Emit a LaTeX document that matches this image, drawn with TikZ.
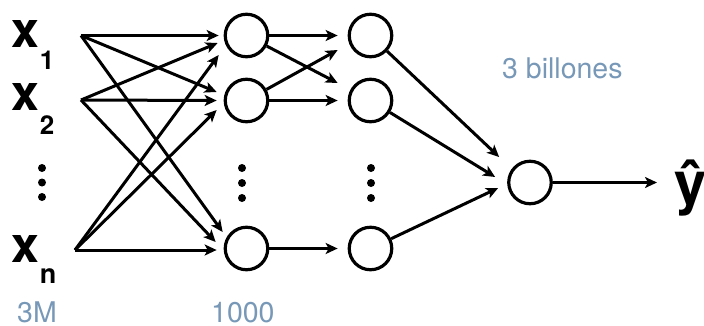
\documentclass[tikz,border=0pt]{standalone}
\usepackage{fontspec}
\setmainfont{TeX Gyre Heros}
\usetikzlibrary{arrows.meta}
\definecolor{labelblue}{RGB}{120,152,184}
\begin{document}
\begin{tikzpicture}[x=1pt,y=-1pt,
  neuron/.style={circle,draw,line width=3.2pt,minimum size=42.5pt,inner sep=0pt},
  conn/.style={line width=3pt,-{Stealth[length=12pt,width=11pt,inset=3pt]}},
  vdot/.style={circle,fill,inner sep=0pt,minimum size=8pt},
  invar/.style={anchor=base west,inner sep=0pt,font=\fontsize{50}{50}\selectfont\bfseries},
  count/.style={anchor=base west,inner sep=0pt,text=labelblue,font=\fontsize{28.5}{29}\selectfont}]
\useasboundingbox (0,0) rectangle (704,325);

% inputs
\node[invar] (x1) at (11,47) {x\kern1pt\raisebox{-22pt}{\fontsize{26}{26}\selectfont 1}};
\node[invar] (x2) at (11,110) {x\kern1pt\raisebox{-24pt}{\fontsize{26}{26}\selectfont 2}};
\node[invar] (xn) at (11,262) {x\kern1pt\raisebox{-21pt}{\fontsize{27}{27}\selectfont n}};
\coordinate (s1) at (81,35.5);
\coordinate (s2) at (81,100);
\coordinate (sn) at (75,250);

% input dots
\node[vdot] (da1) at (42,168) {};
\node[vdot] (da2) at (42,182.5) {};
\node[vdot] (da3) at (42,197) {};

% layer 1
\node[neuron] (L1a) at (246.5,35.5) {};
\node[neuron] (L1b) at (246.5,100.5) {};
\node[neuron] (L1n) at (246.5,248.5) {};
\node[vdot] (db1) at (242,168) {};
\node[vdot] (db2) at (242,183) {};
\node[vdot] (db3) at (242,198) {};

% layer 2
\node[neuron] (L2a) at (370.5,35.5) {};
\node[neuron] (L2b) at (370.5,100.5) {};
\node[neuron] (L2n) at (370.5,248.5) {};
\node[vdot] (dc1) at (371,168) {};
\node[vdot] (dc2) at (371,183) {};
\node[vdot] (dc3) at (371,198) {};

% output
\node[neuron] (out) at (530,182.5) {};
\node[anchor=base west,inner sep=0pt,font=\fontsize{58}{58}\selectfont\bfseries] (yhat) at (674,203) {ŷ};
\coordinate (yin) at (657,182.5);

% labels
\node[count] (lab3m) at (17,322) {3M};
\node[count] (lab1000) at (211,322) {1000};
\node[count] (lab3b) at (502,78) {3 billones};

% inputs -> layer 1
\draw[conn] (s1) -- ([xshift=-5pt]L1a.west);
\draw[conn] (s1) -- ([xshift=-7pt,yshift=8.5pt]L1b.west);
\draw[conn] (s1) -- ([xshift=-1pt,yshift=16.5pt]L1n.west);
\draw[conn] (s2) -- ([xshift=-6pt,yshift=-7.5pt]L1a.west);
\draw[conn] (s2) -- ([xshift=-7pt]L1b.west);
\draw[conn] (s2) -- ([xshift=-8pt,yshift=6.5pt]L1n.west);
\draw[conn] (sn) -- ([xshift=-5pt,yshift=-19.5pt]L1a.west);
\draw[conn] (sn) -- ([xshift=-7pt,yshift=-9.5pt]L1b.west);
\draw[conn] (sn) -- ([xshift=-7pt,yshift=-1.5pt]L1n.west);

% layer 1 -> layer 2
\draw[conn] (L1a) -- ([xshift=-10pt]L2a.west);
\draw[conn] (L1a) -- ([xshift=-10pt,yshift=17.5pt]L2b.west);
\draw[conn] (L1b) -- ([xshift=-10pt,yshift=-14.5pt]L2a.west);
\draw[conn] (L1b) -- ([xshift=-10pt]L2b.west);
\draw[conn] (L1n) -- ([xshift=-10pt]L2n.west);

% layer 2 -> output
\draw[conn] (L2a) -- ([xshift=-8pt,yshift=25.5pt]out.west);
\draw[conn] (L2b) -- ([xshift=-12pt,yshift=5.5pt]out.west);
\draw[conn] (L2n) -- ([xshift=-9pt,yshift=-5.5pt]out.west);

% output -> yhat
\draw[conn] (out) -- (yin);
\end{tikzpicture}
\end{document}
